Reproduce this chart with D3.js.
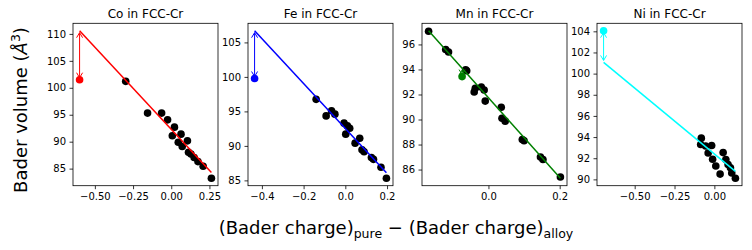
<!DOCTYPE html>
<html>
<head>
<meta charset="utf-8">
<script src="https://cdn.jsdelivr.net/npm/d3@7"></script>
<style>
  body { margin: 0; background: #fff; }
  text { font-family: "DejaVu Sans", sans-serif; fill: #000; }
</style>
</head>
<body>
<svg id="chart" width="752" height="250"></svg>
<script>
// alloy points (Bader charge diff, Bader volume)
const coX = [-0.298, -0.155, -0.063, -0.024, 0.021, 0.007, 0.064, 0.046, 0.072, 0.106, 0.113, 0.129, 0.150, 0.175, 0.209, 0.263];
const coY = [101.2, 95.3, 95.3, 94.05, 92.7, 91.1, 91.4, 89.9, 89.1, 90.15, 88.05, 87.7, 87.05, 86.3, 85.45, 83.2];
const feX = [-0.140, -0.092, -0.066, -0.050, -0.006, 0.010, 0.021, 0.002, 0.069, 0.047, 0.080, 0.090, 0.125, 0.135, 0.171, 0.197];
const feY = [96.75, 94.35, 95.1, 94.6, 93.3, 92.9, 92.55, 91.7, 91.1, 90.4, 89.45, 89.15, 88.3, 88.05, 86.9, 85.3];
const mnX = [-0.168, -0.120, -0.112, -0.064, -0.061, -0.040, -0.037, -0.020, -0.012, -0.009, 0.036, 0.038, 0.047, 0.095, 0.100, 0.146, 0.153, 0.202];
const mnY = [97.05, 95.6, 95.4, 93.98, 93.9, 92.2, 92.5, 92.6, 92.36, 91.47, 90.98, 90.1, 89.87, 88.4, 88.3, 87.0, 86.8, 85.4];
const niX = [-0.082, -0.086, -0.055, -0.017, -0.039, -0.011, 0.009, 0.036, 0.055, 0.072, 0.086, 0.101, 0.109, 0.132];
const niY = [93.9, 93.3, 93.15, 93.2, 92.5, 91.9, 91.26, 90.5, 92.53, 91.87, 91.4, 91.1, 90.6, 90.1];

// pure element point [x, y]
const coPure = [-0.6, 101.5];
const fePure = [-0.435, 99.77];
const mnPure = [-0.074, 93.43];
const niPure = [-0.695, 104.06];

// fit line end points [[x0, y0], [x1, y1]]
const coLine = [[-0.6, 110.6], [0.263, 84.3]];
const feLine = [[-0.435, 106.7], [0.197, 86.1]];
const mnLine = [[-0.168, 97.1], [0.202, 85.3]];
const niLine = [[-0.695, 101.06], [0.132, 90.75]];

// fit value at the pure point x (other end of the arrow)
const coArrow = 110.6;
const feArrow = 106.7;
const mnArrow = 94.1;
const niArrow = 101.06;

// tick labels
const coXTicks = [-0.5, -0.25, 0, 0.25], coYTicks = [85, 90, 95, 100, 105, 110];
const feXTicks = [-0.4, -0.2, 0, 0.2], feYTicks = [85, 90, 95, 100, 105];
const mnXTicks = [0, 0.2], mnYTicks = [86, 88, 90, 92, 94, 96];
const niXTicks = [-0.5, -0.25, 0], niYTicks = [90, 92, 94, 96, 98, 100, 102, 104];

const titles = ["Co in FCC-Cr", "Fe in FCC-Cr", "Mn in FCC-Cr", "Ni in FCC-Cr"];
const colors = ["#ff0000", "#0000ff", "#008000", "#00ffff"];

const panels = [
  { xs: coX, ys: coY, pure: coPure, line: coLine, arrow: coArrow, xt: coXTicks, yt: coYTicks, fmt: ".2f" },
  { xs: feX, ys: feY, pure: fePure, line: feLine, arrow: feArrow, xt: feXTicks, yt: feYTicks, fmt: ".1f" },
  { xs: mnX, ys: mnY, pure: mnPure, line: mnLine, arrow: mnArrow, xt: mnXTicks, yt: mnYTicks, fmt: ".1f" },
  { xs: niX, ys: niY, pure: niPure, line: niLine, arrow: niArrow, xt: niXTicks, yt: niYTicks, fmt: ".2f" },
];

const svg = d3.select("#chart");
const lefts = [73, 248, 422, 597];
const axW = 145, axTop = 23.3, axBottom = 185.7;

// matplotlib-like 5% margins
function padded(vals) {
  const [a, b] = d3.extent(vals);
  const m = (b - a) * 0.05;
  return [a - m, b + m];
}

const defs = svg.append("defs");
colors.forEach((c, i) => {
  defs.append("marker")
    .attr("id", "head" + i)
    .attr("markerUnits", "userSpaceOnUse")
    .attr("markerWidth", 8).attr("markerHeight", 8)
    .attr("viewBox", "0 0 8 8")
    .attr("refX", 6).attr("refY", 4)
    .attr("orient", "auto-start-reverse")
    .append("path")
    .attr("d", "M1,1 L6,4 L1,7")
    .attr("fill", "none")
    .attr("stroke", c)
    .attr("stroke-width", 1);
});

panels.forEach((p, i) => {
  const allX = p.xs.concat([p.pure[0], p.line[0][0], p.line[1][0]]);
  const allY = p.ys.concat([p.pure[1], p.line[0][1], p.line[1][1], p.arrow]);
  const x = d3.scaleLinear().domain(padded(allX)).range([lefts[i], lefts[i] + axW]);
  const y = d3.scaleLinear().domain(padded(allY)).range([axBottom, axTop]);
  const col = colors[i];

  const g = svg.append("g");

  // axes
  const xa = g.append("g").attr("transform", `translate(0,${axBottom})`)
    .call(d3.axisBottom(x).tickValues(p.xt).tickFormat(d3.format(p.fmt)).tickSize(3.5).tickPadding(3.5));
  const ya = g.append("g").attr("transform", `translate(${lefts[i]},0)`)
    .call(d3.axisLeft(y).tickValues(p.yt).tickFormat(d3.format("d")).tickSize(3.5).tickPadding(3.5));
  [xa, ya].forEach(a => {
    a.select(".domain").remove();
    a.selectAll("text").style("font-size", "10px").style("font-family", "DejaVu Sans");
    a.selectAll("line").attr("stroke", "#000").attr("stroke-width", 0.8);
  });

  // black alloy points
  g.append("g").selectAll("circle")
    .data(p.xs.map((d, k) => [d, p.ys[k]]))
    .join("circle")
    .attr("cx", d => x(d[0]))
    .attr("cy", d => y(d[1]))
    .attr("r", 3.8)
    .attr("fill", "#000");

  // fit line
  g.append("path")
    .datum(p.line)
    .attr("d", d3.line().x(d => x(d[0])).y(d => y(d[1])))
    .attr("fill", "none")
    .attr("stroke", col)
    .attr("stroke-width", 1.5);

  // pure element point
  g.append("circle")
    .attr("cx", x(p.pure[0]))
    .attr("cy", y(p.pure[1]))
    .attr("r", 3.8)
    .attr("fill", col);

  // double headed arrow between fit and pure value
  const y0 = y(p.arrow), y1 = y(p.pure[1]);
  const dir = y1 > y0 ? 1 : -1;
  g.append("line")
    .attr("x1", x(p.pure[0])).attr("x2", x(p.pure[0]))
    .attr("y1", y0 + dir * 2).attr("y2", y1 - dir * 2)
    .attr("stroke", col)
    .attr("stroke-width", 1)
    .attr("marker-start", `url(#head${i})`)
    .attr("marker-end", `url(#head${i})`);

  // frame
  g.append("rect")
    .attr("x", lefts[i]).attr("y", axTop)
    .attr("width", axW).attr("height", axBottom - axTop)
    .attr("fill", "none")
    .attr("stroke", "#000")
    .attr("stroke-width", 0.8);

  g.append("text")
    .attr("x", lefts[i] + axW / 2)
    .attr("y", 17.5)
    .attr("text-anchor", "middle")
    .style("font-size", "12px")
    .text(titles[i]);
});

// y label
const yl = svg.append("text")
  .attr("transform", "translate(27,110) rotate(-90)")
  .attr("text-anchor", "middle")
  .style("font-size", "18px");
yl.append("tspan").text("Bader volume (");
yl.append("tspan").style("font-style", "italic").text("Å");
yl.append("tspan").attr("dy", -7).style("font-size", "12.5px").text("3");
yl.append("tspan").attr("dy", 7).text(")");

// x label
const xl = svg.append("text")
  .attr("x", 396)
  .attr("y", 234)
  .attr("text-anchor", "middle")
  .style("font-size", "18px");
xl.append("tspan").text("(Bader charge)");
xl.append("tspan").attr("dy", 4).style("font-size", "12.5px").text("pure");
xl.append("tspan").attr("dy", -4).text(" − (Bader charge)");
xl.append("tspan").attr("dy", 4).style("font-size", "12.5px").text("alloy");
</script>
</body>
</html>
